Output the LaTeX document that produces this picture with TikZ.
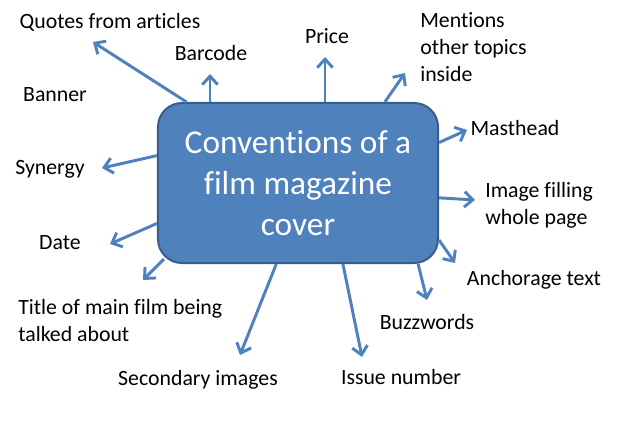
\documentclass[tikz,border=0pt]{standalone}
\usepackage{fontspec}
\setmainfont{Carlito}[Ligatures=NoCommon]
\usetikzlibrary{arrows.meta, calc}

\definecolor{officeblue}{HTML}{4F81BD}
\definecolor{officeedge}{HTML}{385D8A}

\begin{document}
\begin{tikzpicture}[
    x=0.025cm, y=-0.025cm,
    topic/.style={draw=officeedge, line width=1.4pt, fill=officeblue,
                  rounded corners=0.6cm, text=white, align=center,
                  minimum width=7cm, minimum height=4cm,
                  font=\fontsize{23.7}{29}\selectfont},
    lbl/.style={inner sep=0pt, text=black, align=left,
                font=\fontsize{15.5}{19.2}\selectfont},
    arr/.style={draw=officeblue, line width=2.1pt,
                -{Straight Barb[length=6pt, width=11pt]}}
  ]
  \useasboundingbox (0,0) rectangle (640,425);

  % Central box
  \node[topic] (cover) at (298,183)
    {Conventions of a\\film magazine\\cover};

  % Labels
  \node[lbl] (quotes) at (110,22) {Quotes from articles};
  \node[lbl] (barcode) at (211,53) {Barcode};
  \node[lbl] (banner) at (55,95) {Banner};
  \node[lbl] (price) at (327,36) {Price};
  \node[lbl, anchor=west] (mentions) at (420,47)
    {Mentions\\other topics\\inside};
  \node[lbl] (masthead) at (515,128) {Masthead};
  \node[lbl, anchor=west] (image) at (485,205)
    {Image filling\\whole page};
  \node[lbl] (anchorage) at (534,280) {Anchorage text};
  \node[lbl] (buzzwords) at (427,322) {Buzzwords};
  \node[lbl] (issue) at (401,377) {Issue number};
  \node[lbl] (secondary) at (198,380) {Secondary images};
  \node[lbl, anchor=west] (title) at (18,321)
    {Title of main film being\\talked about};
  \node[lbl] (date) at (60,243) {Date};
  \node[lbl] (synergy) at (50,169) {Synergy};

  % Arrow tips
  \coordinate (quotes_tip) at (93,42);
  \coordinate (barcode_tip) at (210,74);
  \coordinate (price_tip) at (325,57);
  \coordinate (mentions_tip) at (405,73);
  \coordinate (masthead_tip) at (467,130);
  \coordinate (image_tip) at (475,200);
  \coordinate (anchorage_tip) at (455,263);
  \coordinate (buzzwords_tip) at (427,300);
  \coordinate (issue_tip) at (362,357);
  \coordinate (secondary_tip) at (240,355);
  \coordinate (title_tip) at (143,280);
  \coordinate (date_tip) at (110,244);
  \coordinate (synergy_tip) at (102,168);

  % Arrows
  \draw[arr] (cover.144) -- (quotes_tip);
  \draw[arr] (cover.north -| barcode_tip) -- (barcode_tip);
  \draw[arr] (cover.north -| price_tip) -- (price_tip);
  \draw[arr] (cover.43.6) -- (mentions_tip);
  \draw[arr] (cover.16.4) -- (masthead_tip);
  \draw[arr] (cover.-6.2) -- (image_tip);
  \draw[arr] (cover.-22.9) -- (anchorage_tip);
  \draw[arr] (cover.-34.6) -- (buzzwords_tip);
  \draw[arr] (cover.-61.2) -- (issue_tip);
  \draw[arr] (cover.-105.3) -- (secondary_tip);
  \draw[arr] ($(cover.south west)+(7,-5)$) -- (title_tip);
  \draw[arr] (cover.-164.8) -- (date_tip);
  \draw[arr] (cover.169.5) -- (synergy_tip);

\end{tikzpicture}
\end{document}
